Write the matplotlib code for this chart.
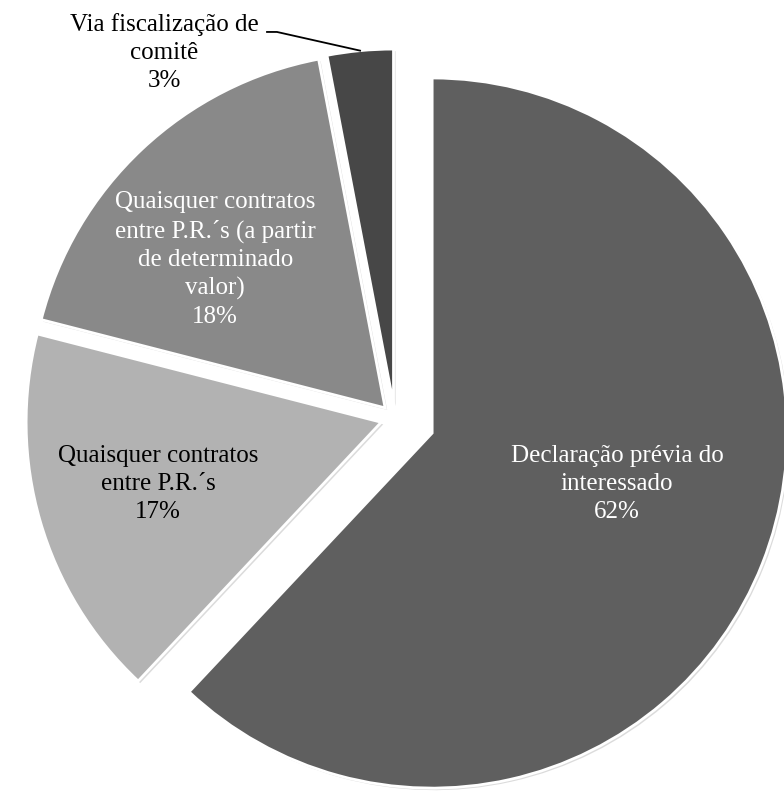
import matplotlib.pyplot as plt
import matplotlib.patheffects as pe
import numpy as np

plt.rcParams['font.family'] = ['Liberation Serif', 'DejaVu Serif']

# share of each control mechanism (%)
labels = ['Declaração prévia do\ninteressado',
          'Quaisquer contratos\nentre P.R.´s',
          'Quaisquer contratos\nentre P.R.´s (a partir\nde determinado\nvalor)',
          'Via fiscalização de\ncomitê']
values = [62, 17, 18, 3]
colors = ['#5f5f5f', '#b2b2b2', '#898989', '#474747']
text_colors = ['white', 'black', 'white', 'black']
explode = [0.113, 0.04, 0.04, 0.04]

fig = plt.figure(figsize=(7.84, 7.95), dpi=100)
ax = fig.add_axes([0, 0, 1, 1])

shadow = [pe.SimplePatchShadow(offset=(1.5, -1.5), shadow_rgbFace='#9a9a9a', alpha=0.35),
          pe.Normal()]
wedges, _ = ax.pie(values, colors=colors, startangle=90, counterclock=False,
                   explode=explode, radius=1.0,
                   wedgeprops=dict(edgecolor='white', linewidth=2,
                                   path_effects=shadow))

# label spots, in data units
label_xy = [(0.626, -0.185), (-0.667, -0.185), (-0.506, 0.446), (-0.650, 1.029)]
for lab, val, (x, y), tc in zip(labels, values, label_xy, text_colors):
    ax.text(x, y, f'{lab}\n{val}%', ha='center', va='center', fontsize=18,
            color=tc, linespacing=1.35)

# leader line for the small slice
w = wedges[3]
ang = np.deg2rad((w.theta1 + w.theta2) / 2)
cx, cy = w.center
tip = (cx + w.r * np.cos(ang), cy + w.r * np.sin(ang))
ax.plot([-0.360, -0.332, tip[0]], [1.088, 1.088, tip[1]], color='black', lw=1.3)

ax.set_xlim(-1.112, 1.096)
ax.set_ylim(-1.061, 1.178)
ax.set_aspect('equal')
ax.axis('off')

fig.savefig('out.png', dpi=100)
